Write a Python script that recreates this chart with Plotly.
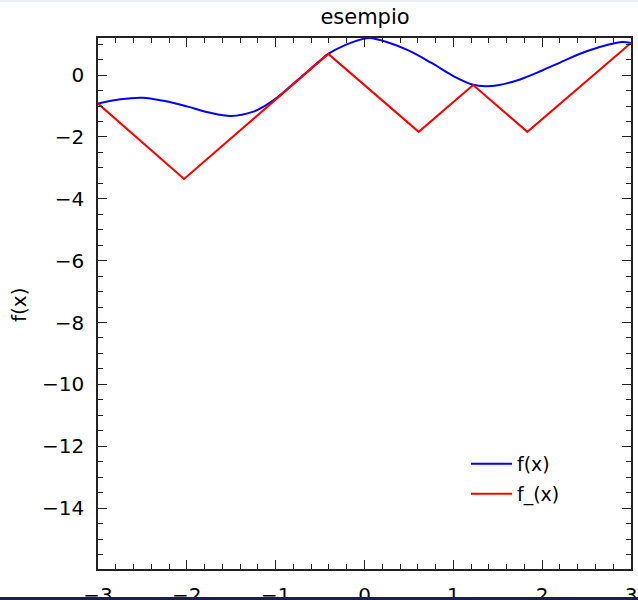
import plotly.graph_objects as go

# f(x): smooth curve
x_f = [-3.0, -2.75, -2.5, -2.25, -2.0, -1.75, -1.5, -1.25, -1.125, -1.0, -0.75, -0.5, -0.408,
       -0.25, 0.0, 0.06, 0.25, 0.5, 0.75, 1.0, 1.223, 1.36, 1.5, 1.75, 2.0, 2.25, 2.5, 2.75, 2.9, 3.0]
y_f = [-0.92, -0.78, -0.73, -0.84, -1.01, -1.21, -1.32, -1.18, -1.0, -0.76, -0.15, 0.47, 0.687,
       0.93, 1.18, 1.20, 1.07, 0.79, 0.40, -0.03, -0.31, -0.36, -0.33, -0.14, 0.15, 0.47, 0.77, 0.99, 1.07, 1.04]

# f_(x): piecewise-linear lower bound (vertices)
x_lb = [-3.0, -2.031, -0.408, 0.610, 1.223, 1.833, 3.0]
y_lb = [-0.92, -3.36, 0.687, -1.835, -0.322, -1.835, 1.04]

title_text = "esempio"
ylabel_text = "f(x)"
x_range = [-3, 3]
y_range = [-15.97, 1.2]

FONT = "DejaVu Sans"

fig = go.Figure()
fig.add_trace(go.Scatter(x=x_f, y=y_f, mode="lines", name="f(x)", showlegend=True,
                         line=dict(color="#0000ff", width=2, shape="spline", smoothing=1.0),
                         legend="legend"))
fig.add_trace(go.Scatter(x=x_lb, y=y_lb, mode="lines", name="f_(x)", showlegend=True,
                         line=dict(color="#ff0000", width=2),
                         legend="legend2"))

axis_common = dict(
    showgrid=False, zeroline=False, showline=True, linecolor="#222222", linewidth=1.5,
    mirror="allticks", ticks="inside", ticklen=9, tickwidth=1.2, tickcolor="#222222",
    tickfont=dict(family=FONT, size=20, color="black"), automargin=False,
)

fig.update_xaxes(range=x_range, tick0=0, dtick=1,
                 minor=dict(ticks="inside", dtick=0.2, tick0=0, ticklen=5, tickwidth=1, tickcolor="#222222"),
                 ticklabelstandoff=7, **axis_common)
fig.update_yaxes(range=y_range, tick0=0, dtick=2,
                 minor=dict(ticks="inside", dtick=0.5, tick0=0, ticklen=5, tickwidth=1, tickcolor="#222222"),
                 ticklabelstandoff=8, **axis_common)

H = 600
W = 638
L, R, T, B = 98, 7, 38, 31
pw = W - L - R
ph = H - T - B

def px_x(px):
    return (px - L) / pw

def px_y(py):
    return (H - B - py) / ph

legend_common = dict(font=dict(family=FONT, size=19, color="black"), bgcolor="rgba(0,0,0,0)",
                     borderwidth=0, xanchor="left", yanchor="middle", tracegroupgap=0,
                     itemwidth=41, visible=True)

fig.update_layout(
    width=W, height=H,
    margin=dict(l=L, r=R, t=T, b=B, autoexpand=False),
    paper_bgcolor="white", plot_bgcolor="white",
    showlegend=True,
    title=dict(text=title_text, x=px_x(365), xref="paper", xanchor="center",
               y=1 - 17 / H, yref="container", yanchor="middle",
               font=dict(family=FONT, size=21, color="black")),
    legend=dict(x=px_x(466), y=px_y(464), **legend_common),
    legend2=dict(x=px_x(466), y=px_y(494), **legend_common),
    annotations=[dict(text=ylabel_text, textangle=-90, xref="paper", yref="paper",
                      x=px_x(19), y=px_y(305), xanchor="center", yanchor="middle",
                      showarrow=False, font=dict(family=FONT, size=20, color="black"))],
    shapes=[
        dict(type="rect", xref="paper", yref="paper", layer="above",
             x0=px_x(-5), x1=px_x(W + 5), y0=px_y(H + 5), y1=px_y(597),
             fillcolor="#1c1f4a", line=dict(width=0)),
        dict(type="rect", xref="paper", yref="paper", layer="above",
             x0=px_x(-5), x1=px_x(W + 5), y0=px_y(2), y1=px_y(-5),
             fillcolor="#eceef8", line=dict(width=0)),
    ],
)

fig.write_html("out.html")
